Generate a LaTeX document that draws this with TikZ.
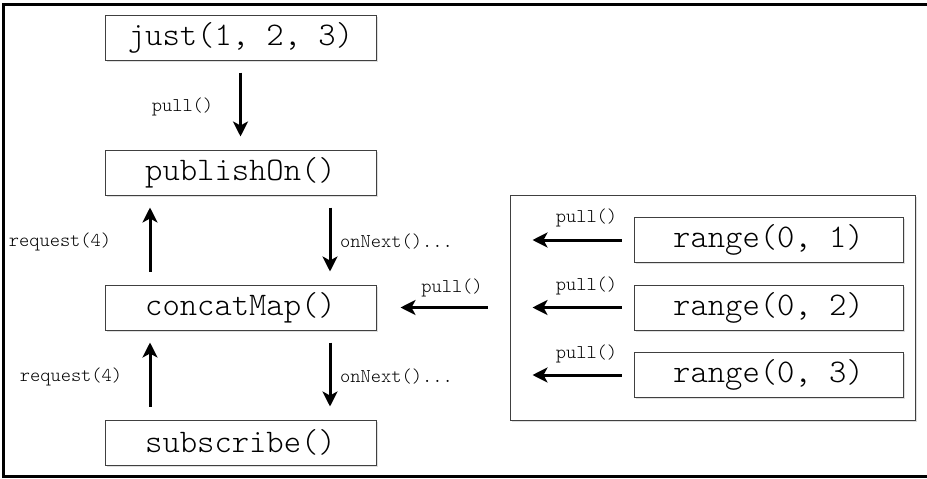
\documentclass[tikz,border=0pt]{standalone}
\usepackage{fontspec}
\setmonofont{Latin Modern Mono Light}
\usetikzlibrary{
    arrows.meta,
    shadows,
    positioning
}
\tikzset{
  opbox/.style={
    draw=black!75,
    line width=1pt,
    fill=white,
    minimum width=271pt,
    minimum height=45pt,
    inner sep=0pt,
    font=\ttfamily\fontsize{33}{35}\selectfont,
    drop shadow={opacity=0.25, shadow xshift=1.5pt, shadow yshift=-1.5pt}
  },
  flow/.style={
    line width=3pt,
    -{Stealth[length=15pt,width=15pt,inset=4pt]}
  },
  lbl/.style={
    inner sep=0pt,
    text=black,
    font=\ttfamily\fontsize{19.5}{21}\selectfont
  }
}

\begin{document}
\begin{tikzpicture}[x=1pt,y=-1pt]
\useasboundingbox (0,0) rectangle (927,479);
\draw[line width=3pt] (927,4.5) -- (3.5,4.5) -- (3.5,476.5) -- (927,476.5);

% main chain
\node[opbox] (just) at (240.5,37.5) {just(1, 2, 3)};
\node[opbox] (publish) at (240.5,172.5) {publishOn()};
\node[opbox] (concat) at (240.5,307.5) {concatMap()};
\node[opbox] (subscribe) at (240.5,442.5) {subscribe()};

\draw[flow, shorten <=12pt, shorten >=13pt] (just) -- (publish);
\node[lbl] (pullTop) at (182.5,107) {pull()};

\draw[flow, shorten <=13pt, shorten >=12pt] ([xshift=-90.5pt]concat.north) -- ([xshift=-90.5pt]publish.south);
\draw[flow, shorten <=12pt, shorten >=13pt] ([xshift=89.5pt]publish.south) -- ([xshift=89.5pt]concat.north);
\node[lbl] (reqA) at (60,241.5) {request(4)};
\node[lbl, anchor=west] (nextA) at (340,241.5) {onNext()...};

\draw[flow, shorten <=13pt, shorten >=12pt] ([xshift=-90.5pt]subscribe.north) -- ([xshift=-90.5pt]concat.south);
\draw[flow, shorten <=12pt, shorten >=13pt] ([xshift=89.5pt]concat.south) -- ([xshift=89.5pt]subscribe.north);
\node[lbl] (reqB) at (71,376.5) {request(4)};
\node[lbl, anchor=west] (nextB) at (340,376.5) {onNext()...};

% inner sources
\node[opbox, minimum width=405pt, minimum height=225pt] (inner) at (712.5,307.5) {};
\draw[flow, shorten <=22pt, shorten >=24pt] (inner.west) -- (concat.east);
\node[lbl] (pullMid) at (452,288) {pull()};

\foreach \n/\y/\ly in {1/240/218,2/307.5/286,3/375/354} {
  \node[opbox, minimum width=269pt] (range\n) at (768.5,\y) {range(0, \n)};
  \draw[flow, shorten <=12pt, shorten >=23pt] (range\n.west) -- (range\n.west -| inner.west);
  \node[lbl] (pull\n) at (586.5,\ly) {pull()};
}
\end{tikzpicture}
\end{document}
